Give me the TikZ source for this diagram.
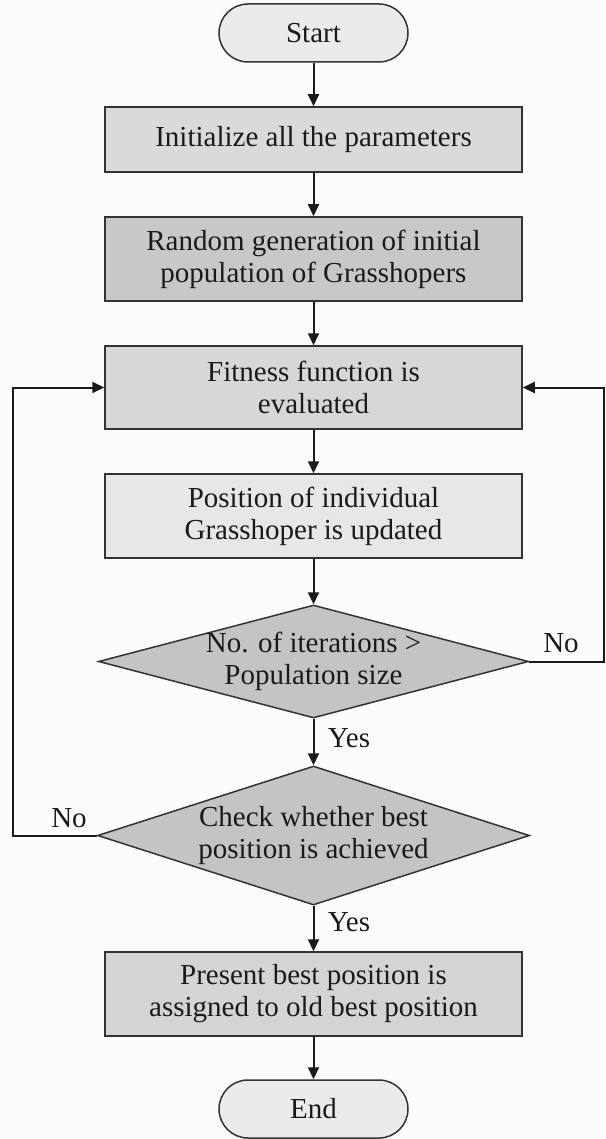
\documentclass[tikz,border=0pt]{standalone}
\usepackage{fontspec}
\setmainfont{Liberation Serif}
\usetikzlibrary{shapes.geometric,arrows.meta}
\definecolor{bg}{HTML}{FCFCFC}
\definecolor{linec}{HTML}{333333}
\definecolor{arrc}{HTML}{1A1A1A}
\definecolor{txt}{HTML}{1A1A1A}
\definecolor{termc}{HTML}{EBEBEB}
\definecolor{initc}{HTML}{DADADA}
\definecolor{randc}{HTML}{C8C8C8}
\definecolor{fitc}{HTML}{D7D7D7}
\definecolor{posc}{HTML}{E7E7E7}
\definecolor{diac}{HTML}{C4C4C4}
\definecolor{presc}{HTML}{D4D4D4}
\begin{document}
\begin{tikzpicture}[x=1pt,y=-1pt,
  txtfont/.style={font=\fontsize{29}{32}\selectfont, text=txt},
  box/.style={draw=linec, line width=1.5pt, rectangle, minimum width=417pt, inner sep=0pt, align=center, txtfont},
  term/.style={box, rounded corners=29pt, minimum width=189pt, minimum height=58pt, fill=termc},
  dia/.style={draw=linec, line width=1.5pt, diamond, inner sep=0pt, fill=diac},
  conn/.style={line width=2pt, draw=arrc, -{Triangle[length=12pt,width=11pt]}},
  lbl/.style={txtfont}
]
\fill[bg] (0,0) rectangle (605,1139);
\useasboundingbox (0,0) rectangle (605,1139);

\node[term] (start) at (313.5,33) {Start};
\node[box, fill=initc, minimum height=65pt] (init) at (313.5,139.5) {Initialize all the parameters};
\node[box, fill=randc, minimum height=84pt] (rand) at (313.5,259) {Random generation of initial\\population of Grasshopers};
\node[box, fill=fitc, minimum height=83pt] (fit) at (313.5,387.5) {Fitness function is\\evaluated};
\node[box, fill=posc, minimum height=84pt] (pos) at (313.5,516) {Position of individual\\Grasshoper is updated};
\node[dia, minimum width=430pt, minimum height=113pt,
  label={[txtfont, align=center]center:{No. of iterations >\\Population size}}] (d1) at (313.5,661.5) {};
\node[dia, minimum width=432pt, minimum height=139pt,
  label={[txtfont, align=center]center:{Check whether best\\position is achieved}}] (d2) at (313.5,835.5) {};
\node[box, fill=presc, minimum height=84pt] (pres) at (313.5,994) {Present best position is\\assigned to old best position};
\node[term] (end) at (313.5,1109) {End};

\draw[conn] (start) -- (init);
\draw[conn] (init) -- (rand);
\draw[conn] (rand) -- (fit);
\draw[conn] (fit) -- (pos);
\draw[conn] (pos) -- (d1);
\draw[conn] (d1) -- node[lbl, right=10pt, pos=0.42] (yes1) {Yes} (d2);
\draw[conn] (d2) -- node[lbl, right=10pt, pos=0.35] (yes2) {Yes} (pres);
\draw[conn] (pres) -- (end);

\coordinate (rc) at (604,661.5);
\coordinate (rt) at (604,387.5);
\draw[conn] (d1.east) -- (rc) -- (rt) -- (fit.east);
\node[lbl] (no1) at (561,643) {No};

\coordinate (lc) at (13,835.5);
\coordinate (lt) at (13,387.5);
\draw[conn] (d2.west) -- (lc) -- (lt) -- (fit.west);
\node[lbl] (no2) at (69,818) {No};
\end{tikzpicture}
\end{document}
